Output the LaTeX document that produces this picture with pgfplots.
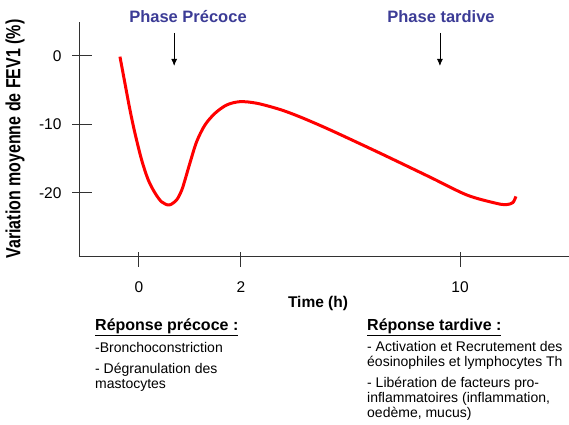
\documentclass[border=0pt]{standalone}
\usepackage{fontspec}
\setmainfont{Liberation Sans}
\usepackage{pgfplots}
\pgfplotsset{compat=1.18}
\usetikzlibrary{arrows.meta}
\definecolor{phaseblue}{RGB}{60,60,150}
\definecolor{axisgray}{RGB}{50,50,50}
\begin{document}
\begin{tikzpicture}
\path[use as bounding box] (-79pt,-168pt) rectangle (490pt,256pt);
\begin{axis}[
  at={(0pt,0pt)}, anchor=south west,
  scale only axis, width=490pt, height=234pt,
  xmin=-1.176, xmax=8.431, ymin=-29.2, ymax=4.96,
  axis lines*=left,
  axis line style={axisgray, line width=0.8pt},
  xtick={0,2,6.294}, xticklabels={0,2,10},
  ytick={-20,-10,0},
  major tick length=0pt,
  ticklabel style={font=\fontsize{15.5}{17}\selectfont},
  /pgf/number format/assume math mode=true,
  xticklabel style={yshift=-22pt},
  yticklabel style={xshift=-14pt},
  clip=false,
]
\addplot[red, line width=3pt, smooth] coordinates {
(-0.373,-0.1) (-0.275,-4.0) (-0.176,-7.9) (-0.078,-11.3) (0.053,-15.2) (0.182,-18.1)
(0.314,-20.0) (0.445,-21.3) (0.594,-21.75) (0.739,-21.0) (0.837,-19.6) (0.902,-18.1)
(1.0,-15.6) (1.131,-12.5) (1.294,-10.07) (1.49,-8.37) (1.72,-7.15) (1.98,-6.67)
(2.31,-6.9) (2.76,-7.8) (3.16,-8.9) (3.75,-10.8) (4.73,-14.2) (5.71,-17.7) (6.43,-20.3)
(7.0,-21.5) (7.2,-21.7) (7.33,-21.4) (7.39,-20.5)
};
% anchor points for tick marks
\coordinate (xt1) at (axis cs:0,-29.2);
\coordinate (xt2) at (axis cs:2,-29.2);
\coordinate (xt3) at (axis cs:6.294,-29.2);
\coordinate (yt1) at (axis cs:-1.176,0);
\coordinate (yt2) at (axis cs:-1.176,-10);
\coordinate (yt3) at (axis cs:-1.176,-20);
\draw[-{Latex[length=7pt,width=6pt]}, line width=0.8pt] (axis cs:0.69,3.36) -- (axis cs:0.69,-1.46);
\draw[-{Latex[length=7pt,width=6pt]}, line width=0.8pt] (axis cs:5.90,3.36) -- (axis cs:5.90,-1.46);
\end{axis}
% tick marks
\foreach \t in {xt1,xt2,xt3}
  \draw[axisgray, line width=1pt] ([yshift=4pt]\t) -- ([yshift=-11pt]\t);
\foreach \t in {yt1,yt2,yt3}
  \draw[axisgray, line width=1pt] ([xshift=-7pt]\t) -- ([xshift=13pt]\t);
% titles (pixel -> (px-79, 256-py))
\node[text=phaseblue, font=\fontsize{16.5}{18}\selectfont\bfseries] at (109pt,239pt) {Phase Précoce};
\node[text=phaseblue, font=\fontsize{16.5}{18}\selectfont\bfseries] at (362pt,239pt) {Phase tardive};
\node[font=\fontsize{15.5}{18}\selectfont\bfseries] at (239pt,-47pt) {Time (h)};
\node[rotate=90, font=\fontsize{20.5}{22}\selectfont\bfseries] at (-64pt,117pt) {\scalebox{0.78}[1]{Variation moyenne de FEV1 (\%)}};
% bottom texts
\node[anchor=mid west, inner sep=0pt, font=\fontsize{16}{18}\selectfont\bfseries] at (16pt,-72pt) {\underline{Réponse précoce :}};
\node[anchor=mid west, inner sep=0pt, font=\fontsize{14}{16}\selectfont] at (16pt,-94pt) {-Bronchoconstriction};
\node[anchor=mid west, inner sep=0pt, font=\fontsize{14}{16}\selectfont] at (16pt,-115pt) {- Dégranulation des};
\node[anchor=mid west, inner sep=0pt, font=\fontsize{14}{16}\selectfont] at (16pt,-130pt) {mastocytes};
\node[anchor=mid west, inner sep=0pt, font=\fontsize{16}{18}\selectfont\bfseries] at (288pt,-72pt) {\underline{Réponse tardive :}};
\node[anchor=mid west, inner sep=0pt, font=\fontsize{14}{16}\selectfont] at (288pt,-93pt) {- Activation et Recrutement des};
\node[anchor=mid west, inner sep=0pt, font=\fontsize{14}{16}\selectfont] at (288pt,-108pt) {éosinophiles et lymphocytes Th};
\node[anchor=mid west, inner sep=0pt, font=\fontsize{14}{16}\selectfont] at (288pt,-129pt) {- Libération de facteurs pro-};
\node[anchor=mid west, inner sep=0pt, font=\fontsize{14}{16}\selectfont] at (288pt,-144pt) {inflammatoires (inflammation,};
\node[anchor=mid west, inner sep=0pt, font=\fontsize{14}{16}\selectfont] at (288pt,-159pt) {oedème, mucus)};
\end{tikzpicture}
\end{document}
